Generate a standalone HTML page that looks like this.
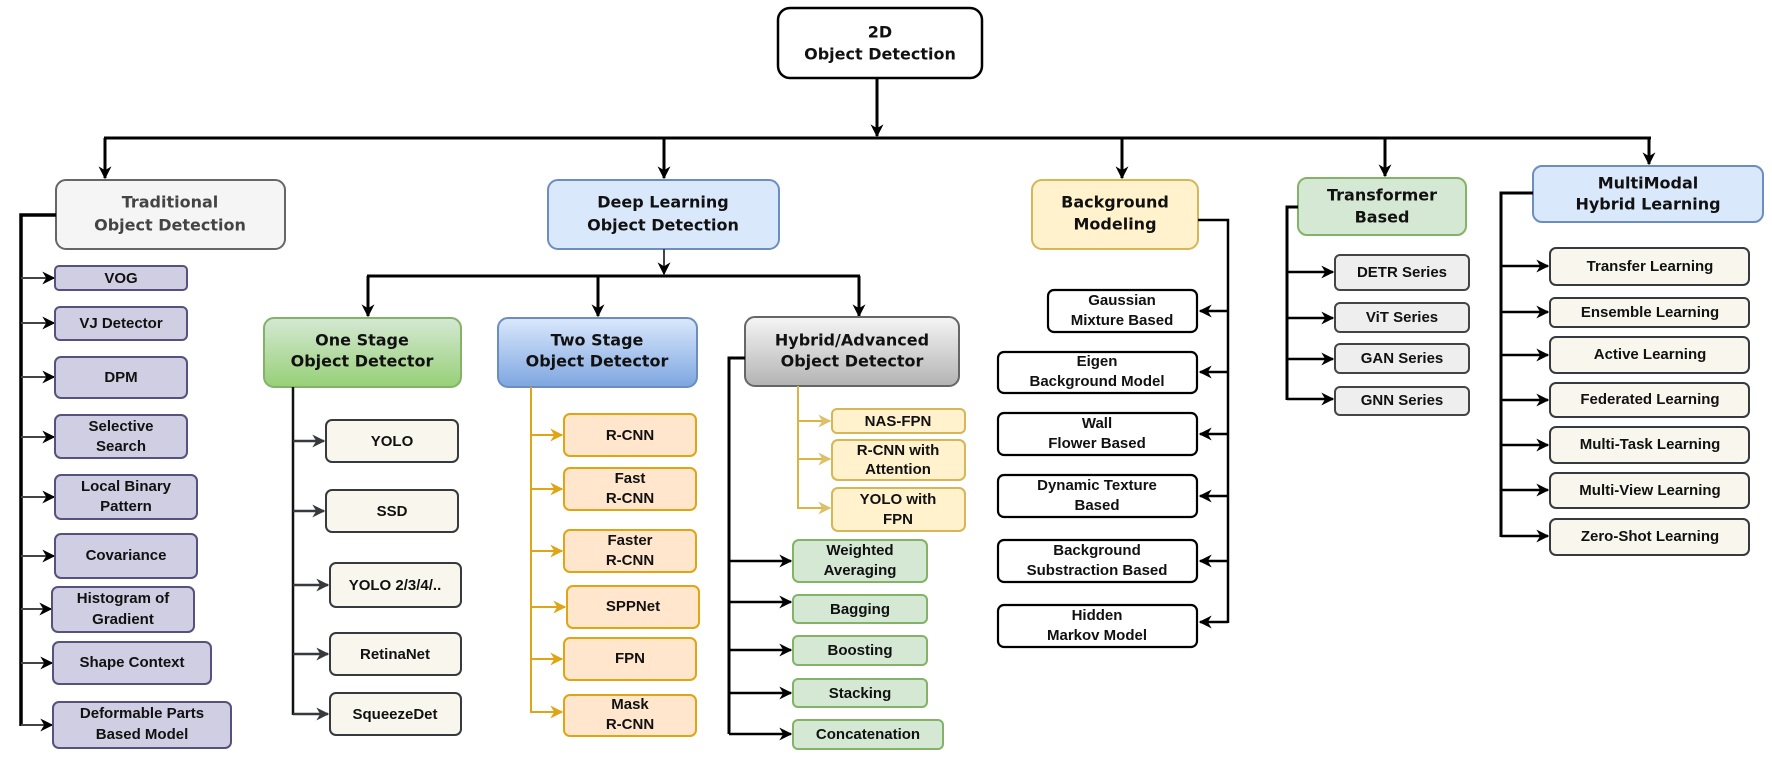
<!DOCTYPE html>
<html><head><meta charset="utf-8"><style>
html,body{margin:0;padding:0;background:#fff;}
svg{display:block;}
.h{font-family:"DejaVu Sans","Liberation Sans",sans-serif;font-weight:bold;font-size:16px;fill:#111;text-anchor:middle;dominant-baseline:middle;}
.t{font-family:"Liberation Sans",Arial,sans-serif;font-weight:bold;font-size:15px;fill:#111;text-anchor:middle;dominant-baseline:middle;}
</style></head><body>
<svg width="1772" height="758" viewBox="0 0 1772 758" xmlns="http://www.w3.org/2000/svg">
<defs>
<marker id="a" viewBox="0 0 10 10" refX="9" refY="5" markerWidth="13" markerHeight="13" markerUnits="userSpaceOnUse" orient="auto"><path d="M0,0 L10,5 L0,10 L3,5 z" fill="#000"/></marker>
<marker id="g" viewBox="0 0 10 10" refX="9" refY="5" markerWidth="13" markerHeight="13" markerUnits="userSpaceOnUse" orient="auto"><path d="M0,0 L10,5 L0,10 L3,5 z" fill="#36393d"/></marker>
<marker id="o" viewBox="0 0 10 10" refX="9" refY="5" markerWidth="13" markerHeight="13" markerUnits="userSpaceOnUse" orient="auto"><path d="M0,0 L10,5 L0,10 L3,5 z" fill="#e0a514"/></marker>
<marker id="y" viewBox="0 0 10 10" refX="9" refY="5" markerWidth="13" markerHeight="13" markerUnits="userSpaceOnUse" orient="auto"><path d="M0,0 L10,5 L0,10 L3,5 z" fill="#dcc06a"/></marker>
<linearGradient id="gg" x1="0" y1="0" x2="0" y2="1"><stop offset="0" stop-color="#d5e8d4"/><stop offset="1" stop-color="#97d077"/></linearGradient>
<linearGradient id="gb" x1="0" y1="0" x2="0" y2="1"><stop offset="0" stop-color="#dae8fc"/><stop offset="1" stop-color="#7ea6e0"/></linearGradient>
<linearGradient id="gy" x1="0" y1="0" x2="0" y2="1"><stop offset="0" stop-color="#f5f5f5"/><stop offset="1" stop-color="#b3b3b3"/></linearGradient>
</defs>

<!-- root -->
<rect x="778" y="8" width="204" height="70" rx="12" fill="#fff" stroke="#000" stroke-width="2.5"/>
<text class="h" x="880" y="33">2D</text>
<text class="h" x="880" y="55">Object Detection</text>
<line x1="877" y1="78" x2="877" y2="136" stroke="#000" stroke-width="3" marker-end="url(#a)"/>
<line x1="104" y1="138" x2="1651" y2="138" stroke="#000" stroke-width="3"/>
<g stroke="#000" stroke-width="3" marker-end="url(#a)">
<line x1="105" y1="138" x2="105" y2="178"/>
<line x1="664" y1="138" x2="664" y2="178"/>
<line x1="1122" y1="138" x2="1122" y2="178"/>
<line x1="1385" y1="138" x2="1385" y2="176"/>
<line x1="1649" y1="138" x2="1649" y2="164"/>
</g>

<!-- Traditional -->
<rect x="56" y="180" width="229" height="69" rx="10" fill="#f5f5f5" stroke="#666" stroke-width="2"/>
<text class="h" x="170" y="203" style="fill:#444">Traditional</text>
<text class="h" x="170" y="226" style="fill:#444">Object Detection</text>
<polyline points="56,215 21,215 21,726" fill="none" stroke="#000" stroke-width="3.5"/>
<g stroke="#444" stroke-width="2" marker-end="url(#a)">
<line x1="21" y1="278" x2="54" y2="278"/>
<line x1="21" y1="323" x2="54" y2="323"/>
<line x1="21" y1="377" x2="54" y2="377"/>
<line x1="21" y1="437" x2="54" y2="437"/>
<line x1="21" y1="497" x2="54" y2="497"/>
<line x1="21" y1="556" x2="54" y2="556"/>
<line x1="21" y1="609" x2="51" y2="609"/>
<line x1="21" y1="663" x2="52" y2="663"/>
<line x1="21" y1="725" x2="52" y2="725"/>
</g>
<g fill="#d0cee2" stroke="#56517e" stroke-width="2">
<rect x="55" y="266" width="132" height="24" rx="4"/>
<rect x="55" y="307" width="132" height="33" rx="5"/>
<rect x="55" y="357" width="132" height="41" rx="6"/>
<rect x="55" y="415" width="132" height="43" rx="6"/>
<rect x="55" y="475" width="142" height="44" rx="6"/>
<rect x="55" y="534" width="142" height="44" rx="6"/>
<rect x="52" y="587" width="142" height="45" rx="6"/>
<rect x="53" y="642" width="158" height="42" rx="6"/>
<rect x="53" y="702" width="178" height="46" rx="6"/>
</g>
<text class="t" x="121" y="279">VOG</text>
<text class="t" x="121" y="324">VJ Detector</text>
<text class="t" x="121" y="378">DPM</text>
<text class="t" x="121" y="427">Selective</text>
<text class="t" x="121" y="447">Search</text>
<text class="t" x="126" y="487">Local Binary</text>
<text class="t" x="126" y="507">Pattern</text>
<text class="t" x="126" y="556">Covariance</text>
<text class="t" x="123" y="599">Histogram of</text>
<text class="t" x="123" y="620">Gradient</text>
<text class="t" x="132" y="663">Shape Context</text>
<text class="t" x="142" y="714">Deformable Parts</text>
<text class="t" x="142" y="735">Based Model</text>

<!-- Deep learning -->
<rect x="548" y="180" width="231" height="69" rx="10" fill="#dae8fc" stroke="#6c8ebf" stroke-width="2"/>
<text class="h" x="663" y="203">Deep Learning</text>
<text class="h" x="663" y="226">Object Detection</text>
<line x1="664" y1="249" x2="664" y2="274" stroke="#444" stroke-width="2" marker-end="url(#a)"/>
<line x1="367" y1="276" x2="860" y2="276" stroke="#000" stroke-width="3"/>
<g stroke="#000" stroke-width="3" marker-end="url(#a)">
<line x1="368" y1="276" x2="368" y2="316"/>
<line x1="598" y1="276" x2="598" y2="316"/>
<line x1="859" y1="276" x2="859" y2="316"/>
</g>
<rect x="264" y="318" width="197" height="69" rx="10" fill="url(#gg)" stroke="#82b366" stroke-width="2"/>
<text class="h" x="362" y="341">One Stage</text>
<text class="h" x="362" y="362">Object Detector</text>
<rect x="498" y="318" width="199" height="69" rx="10" fill="url(#gb)" stroke="#6c8ebf" stroke-width="2"/>
<text class="h" x="597" y="341">Two Stage</text>
<text class="h" x="597" y="362">Object Detector</text>
<rect x="745" y="317" width="214" height="69" rx="10" fill="url(#gy)" stroke="#666" stroke-width="2"/>
<text class="h" x="852" y="341">Hybrid/Advanced</text>
<text class="h" x="852" y="362">Object Detector</text>

<!-- One stage children -->
<line x1="293" y1="387" x2="293" y2="715" stroke="#111" stroke-width="2.5"/>
<g stroke="#36393d" stroke-width="2.5" marker-end="url(#g)">
<line x1="293" y1="441" x2="324" y2="441"/>
<line x1="293" y1="511" x2="324" y2="511"/>
<line x1="293" y1="585" x2="328" y2="585"/>
<line x1="293" y1="654" x2="328" y2="654"/>
<line x1="293" y1="714" x2="328" y2="714"/>
</g>
<g fill="#f9f7ed" stroke="#36393d" stroke-width="2">
<rect x="326" y="420" width="132" height="42" rx="6"/>
<rect x="326" y="490" width="132" height="42" rx="6"/>
<rect x="330" y="563" width="131" height="44" rx="6"/>
<rect x="330" y="633" width="131" height="42" rx="6"/>
<rect x="330" y="693" width="131" height="42" rx="6"/>
</g>
<text class="t" x="392" y="442">YOLO</text>
<text class="t" x="392" y="512">SSD</text>
<text class="t" x="395" y="586">YOLO 2/3/4/..</text>
<text class="t" x="395" y="655">RetinaNet</text>
<text class="t" x="395" y="715">SqueezeDet</text>

<!-- Two stage children -->
<line x1="531" y1="387" x2="531" y2="713" stroke="#e0a514" stroke-width="2"/>
<g stroke="#e0a514" stroke-width="2" marker-end="url(#o)">
<line x1="531" y1="435" x2="562" y2="435"/>
<line x1="531" y1="489" x2="562" y2="489"/>
<line x1="531" y1="551" x2="562" y2="551"/>
<line x1="531" y1="607" x2="565" y2="607"/>
<line x1="531" y1="659" x2="562" y2="659"/>
<line x1="531" y1="712" x2="562" y2="712"/>
</g>
<g fill="#ffe6cc" stroke="#e0a514" stroke-width="2">
<rect x="564" y="414" width="132" height="42" rx="6"/>
<rect x="564" y="468" width="132" height="42" rx="6"/>
<rect x="564" y="530" width="132" height="42" rx="6"/>
<rect x="567" y="586" width="132" height="42" rx="6"/>
<rect x="564" y="638" width="132" height="42" rx="6"/>
<rect x="564" y="695" width="132" height="41" rx="6"/>
</g>
<text class="t" x="630" y="436">R-CNN</text>
<text class="t" x="630" y="479">Fast</text>
<text class="t" x="630" y="499">R-CNN</text>
<text class="t" x="630" y="541">Faster</text>
<text class="t" x="630" y="561">R-CNN</text>
<text class="t" x="633" y="607">SPPNet</text>
<text class="t" x="630" y="659">FPN</text>
<text class="t" x="630" y="705">Mask</text>
<text class="t" x="630" y="725">R-CNN</text>

<!-- Hybrid children -->
<line x1="798" y1="386" x2="798" y2="509" stroke="#dcb444" stroke-width="2"/>
<g stroke="#dcb444" stroke-width="2" marker-end="url(#y)">
<line x1="798" y1="421" x2="830" y2="421"/>
<line x1="798" y1="459" x2="830" y2="459"/>
<line x1="798" y1="508" x2="830" y2="508"/>
</g>
<g fill="#fff2cc" stroke="#d6b656" stroke-width="2">
<rect x="832" y="409" width="133" height="24" rx="5"/>
<rect x="832" y="440" width="133" height="40" rx="6"/>
<rect x="832" y="488" width="133" height="43" rx="6"/>
</g>
<text class="t" x="898" y="422">NAS-FPN</text>
<text class="t" x="898" y="451">R-CNN with</text>
<text class="t" x="898" y="470">Attention</text>
<text class="t" x="898" y="500">YOLO with</text>
<text class="t" x="898" y="520">FPN</text>
<polyline points="745,358 729,358 729,734" fill="none" stroke="#000" stroke-width="3"/>
<g stroke="#000" stroke-width="2.5" marker-end="url(#a)">
<line x1="729" y1="561" x2="791" y2="561"/>
<line x1="729" y1="602" x2="791" y2="602"/>
<line x1="729" y1="650" x2="791" y2="650"/>
<line x1="729" y1="693" x2="791" y2="693"/>
<line x1="729" y1="734" x2="791" y2="734"/>
</g>
<g fill="#d5e8d4" stroke="#82b366" stroke-width="2">
<rect x="793" y="540" width="134" height="42" rx="6"/>
<rect x="793" y="595" width="134" height="28" rx="5"/>
<rect x="793" y="636" width="134" height="29" rx="5"/>
<rect x="793" y="679" width="134" height="28" rx="5"/>
<rect x="793" y="720" width="150" height="29" rx="5"/>
</g>
<text class="t" x="860" y="551">Weighted</text>
<text class="t" x="860" y="571">Averaging</text>
<text class="t" x="860" y="610">Bagging</text>
<text class="t" x="860" y="651">Boosting</text>
<text class="t" x="860" y="694">Stacking</text>
<text class="t" x="868" y="735">Concatenation</text>

<!-- Background modeling -->
<rect x="1032" y="180" width="166" height="69" rx="10" fill="#fff2cc" stroke="#d6b656" stroke-width="2"/>
<text class="h" x="1115" y="203">Background</text>
<text class="h" x="1115" y="225">Modeling</text>
<polyline points="1198,220 1228,220 1228,623" fill="none" stroke="#000" stroke-width="2.5"/>
<g stroke="#000" stroke-width="2.5" marker-end="url(#a)">
<line x1="1228" y1="311" x2="1200" y2="311"/>
<line x1="1228" y1="372" x2="1200" y2="372"/>
<line x1="1228" y1="434" x2="1200" y2="434"/>
<line x1="1228" y1="496" x2="1200" y2="496"/>
<line x1="1228" y1="561" x2="1200" y2="561"/>
<line x1="1228" y1="622" x2="1200" y2="622"/>
</g>
<g fill="#fff" stroke="#000" stroke-width="2.2">
<rect x="1048" y="290" width="149" height="42" rx="6"/>
<rect x="998" y="352" width="199" height="41" rx="6"/>
<rect x="998" y="413" width="199" height="42" rx="6"/>
<rect x="998" y="475" width="199" height="42" rx="6"/>
<rect x="998" y="540" width="199" height="42" rx="6"/>
<rect x="998" y="605" width="199" height="42" rx="6"/>
</g>
<text class="t" x="1122" y="301">Gaussian</text>
<text class="t" x="1122" y="321">Mixture Based</text>
<text class="t" x="1097" y="362">Eigen</text>
<text class="t" x="1097" y="382">Background Model</text>
<text class="t" x="1097" y="424">Wall</text>
<text class="t" x="1097" y="444">Flower Based</text>
<text class="t" x="1097" y="486">Dynamic Texture</text>
<text class="t" x="1097" y="506">Based</text>
<text class="t" x="1097" y="551">Background</text>
<text class="t" x="1097" y="571">Substraction Based</text>
<text class="t" x="1097" y="616">Hidden</text>
<text class="t" x="1097" y="636">Markov Model</text>

<!-- Transformer -->
<rect x="1298" y="178" width="168" height="57" rx="9" fill="#d5e8d4" stroke="#82b366" stroke-width="2"/>
<text class="h" x="1382" y="196">Transformer</text>
<text class="h" x="1382" y="218">Based</text>
<polyline points="1298,207 1287,207 1287,400" fill="none" stroke="#000" stroke-width="3"/>
<g stroke="#000" stroke-width="2.5" marker-end="url(#a)">
<line x1="1287" y1="272" x2="1333" y2="272"/>
<line x1="1287" y1="318" x2="1333" y2="318"/>
<line x1="1287" y1="359" x2="1333" y2="359"/>
<line x1="1287" y1="399" x2="1333" y2="399"/>
</g>
<g fill="#eeeeee" stroke="#444" stroke-width="2">
<rect x="1335" y="255" width="134" height="35" rx="5"/>
<rect x="1335" y="303" width="134" height="29" rx="5"/>
<rect x="1335" y="344" width="134" height="29" rx="5"/>
<rect x="1335" y="387" width="134" height="28" rx="5"/>
</g>
<text class="t" x="1402" y="273">DETR Series</text>
<text class="t" x="1402" y="318">ViT Series</text>
<text class="t" x="1402" y="359">GAN Series</text>
<text class="t" x="1402" y="401">GNN Series</text>

<!-- MultiModal -->
<rect x="1533" y="166" width="230" height="56" rx="9" fill="#dae8fc" stroke="#6c8ebf" stroke-width="2"/>
<text class="h" x="1648" y="184">MultiModal</text>
<text class="h" x="1648" y="205">Hybrid Learning</text>
<polyline points="1533,193 1501,193 1501,537" fill="none" stroke="#000" stroke-width="3"/>
<g stroke="#000" stroke-width="2.5" marker-end="url(#a)">
<line x1="1501" y1="266" x2="1548" y2="266"/>
<line x1="1501" y1="312" x2="1548" y2="312"/>
<line x1="1501" y1="355" x2="1548" y2="355"/>
<line x1="1501" y1="400" x2="1548" y2="400"/>
<line x1="1501" y1="445" x2="1548" y2="445"/>
<line x1="1501" y1="490" x2="1548" y2="490"/>
<line x1="1501" y1="536" x2="1548" y2="536"/>
</g>
<g fill="#f9f7ed" stroke="#36393d" stroke-width="2">
<rect x="1550" y="248" width="199" height="37" rx="6"/>
<rect x="1550" y="298" width="199" height="29" rx="5"/>
<rect x="1550" y="337" width="199" height="36" rx="6"/>
<rect x="1550" y="383" width="199" height="34" rx="6"/>
<rect x="1550" y="427" width="199" height="36" rx="6"/>
<rect x="1550" y="473" width="199" height="35" rx="6"/>
<rect x="1550" y="519" width="199" height="36" rx="6"/>
</g>
<text class="t" x="1650" y="267">Transfer Learning</text>
<text class="t" x="1650" y="313">Ensemble Learning</text>
<text class="t" x="1650" y="355">Active Learning</text>
<text class="t" x="1650" y="400">Federated Learning</text>
<text class="t" x="1650" y="445">Multi-Task Learning</text>
<text class="t" x="1650" y="491">Multi-View Learning</text>
<text class="t" x="1650" y="537">Zero-Shot Learning</text>
</svg>
</body></html>
